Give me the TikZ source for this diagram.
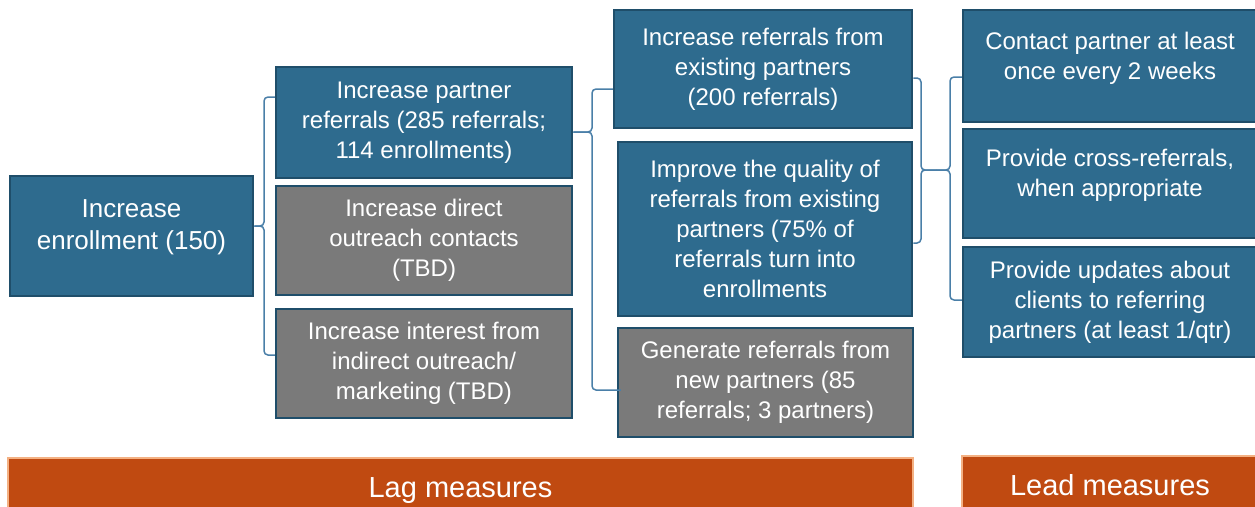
\documentclass[tikz,border=0pt]{standalone}
\usepackage{fontspec}
\setmainfont{Liberation Sans}
\usetikzlibrary{calc}

\definecolor{boxblue}{HTML}{2E6B8E}
\definecolor{boxedge}{HTML}{1F4E6A}
\definecolor{boxgray}{HTML}{7A7A7A}
\definecolor{bracecol}{HTML}{4A7FA8}
\definecolor{barorange}{HTML}{C04A11}
\definecolor{baredge}{HTML}{F4B183}

\begin{document}
\begin{tikzpicture}[x=1pt,y=-1pt,
  box/.style={rectangle,draw=boxedge,line width=2.5pt,text=white,align=center,
    inner sep=0pt,font=\fontsize{24}{30}\selectfont},
  blue box/.style={box,fill=boxblue},
  gray box/.style={box,fill=boxgray},
  bar/.style={rectangle,fill=barorange,draw=baredge,line width=2pt,text=white,
    inner sep=0pt,font=\fontsize{29}{34}\selectfont},
  brace/.style={draw=bracecol,line width=1.5pt,rounded corners=4pt}]

  \useasboundingbox (0,0) rectangle (1255,506);

  % goal
  \node[blue box,minimum width=243,minimum height=120] (enroll) at (131.5,236) {};
  \node[box,draw=none,font=\fontsize{26}{32}\selectfont] (enroll text)
    at ([yshift=9pt]enroll.center) {Increase\\enrollment (150)};

  % lag measures
  \node[blue box,minimum width=296,minimum height=111] (partner) at (424,122.5)
    {Increase partner\\referrals (285 referrals;\\114 enrollments)};
  \node[gray box,minimum width=296,minimum height=109] (direct) at (424,240.5)
    {Increase direct\\outreach contacts\\(TBD)};
  \node[gray box,minimum width=296,minimum height=109] (interest) at (424,363.5)
    {Increase interest from\\indirect outreach/\\marketing (TBD)};

  \node[blue box,minimum width=298,minimum height=118] (existing) at (763,69)
    {Increase referrals from\\existing partners\\(200 referrals)};
  \node[blue box,minimum width=294,minimum height=174] (quality) at (765,229)
    {Improve the quality of\\referrals from existing\\partners (75\% of\\referrals turn into\\enrollments};
  \node[gray box,minimum width=295,minimum height=109] (generate) at (765.5,382.5)
    {Generate referrals from\\new partners (85\\referrals; 3 partners)};

  % lead measures
  \node[blue box,minimum width=294,minimum height=112] (contact) at (1110,66) {};
  \node[box,draw=none] (contact text) at ([yshift=8pt]contact.center)
    {Contact partner at least\\once every 2 weeks};
  \node[blue box,minimum width=294,minimum height=109] (cross) at (1110,183.5) {};
  \node[box,draw=none] (cross text) at ([yshift=8pt]cross.center)
    {Provide cross-referrals,\\when appropriate};
  \node[blue box,minimum width=294,minimum height=110] (updates) at (1110,302)
    {Provide updates about\\clients to referring\\partners (at least 1/qtr)};

  % bottom bars
  \node[bar,minimum width=905,minimum height=66] (lag) at (460.5,491) {Lag measures};
  \node[bar,minimum width=296,minimum height=58] (lead) at (1110,485) {Lead measures};

  % braces
  \draw[brace] (partner.west |- 0,97) -| (264,226) -- (enroll.east |- 0,226);
  \draw[brace] (interest.west |- 0,355) -| (264,226) -- (enroll.east |- 0,226);

  \draw[brace] (existing.west |- 0,89) -| (592,132) -- (partner.east |- 0,132);
  \draw[brace] ($(generate.west |- 0,390)+(4,0)$) -| (592,132) -- (partner.east |- 0,132);

  \coordinate (meet) at (936,170);
  \draw[brace] (existing.east |- 0,78) -| (921,170) -- (meet);
  \draw[brace] (quality.east |- 0,243) -| (921,170) -- (meet);
  \draw[brace] (contact.west |- 0,77) -| (950,170) -- (meet);
  \draw[brace] (updates.west |- 0,300) -| (950,170) -- (meet);
\end{tikzpicture}
\end{document}
